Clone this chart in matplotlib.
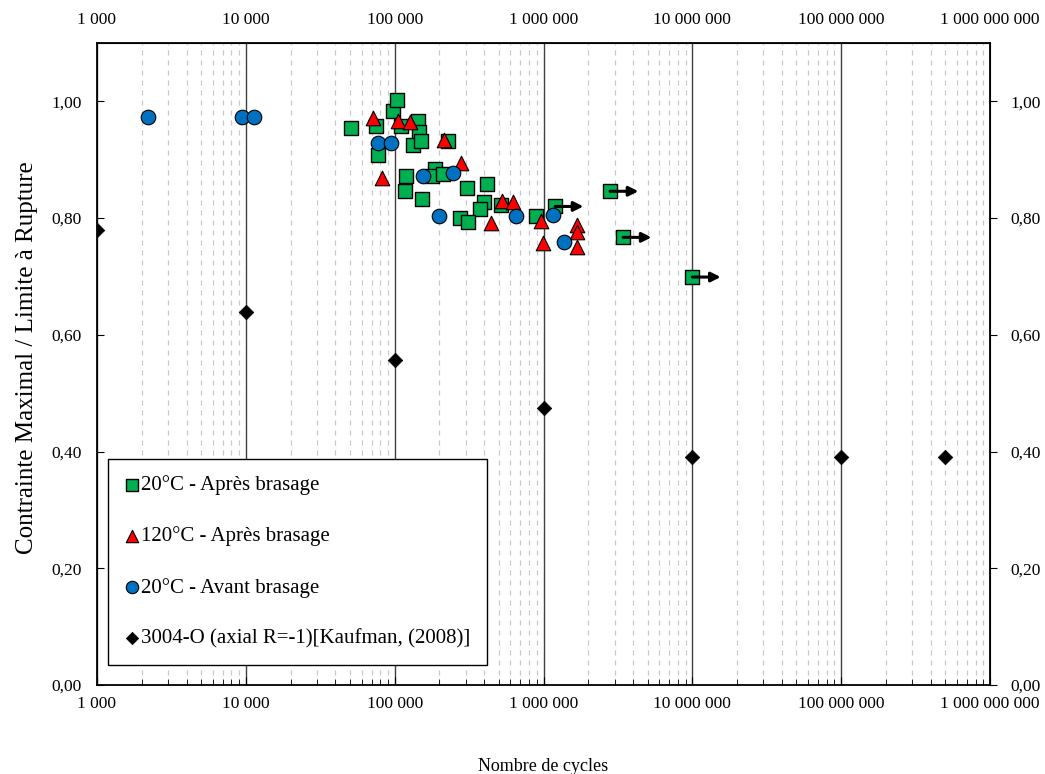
import matplotlib.pyplot as plt
from matplotlib.ticker import LogLocator, FuncFormatter, NullFormatter

plt.rcParams['font.family'] = ['Liberation Serif', 'DejaVu Serif']

# 20°C - Après brasage (green squares)
sq_n = [50900, 75000, 77300, 97500, 104000, 110000, 143500, 146000, 133000, 150000,
        229000, 119000, 117000, 153000, 187000, 178000, 211000, 307000, 418000, 399000,
        375000, 519000, 275000, 311000, 891000]
sq_s = [0.955, 0.957, 0.908, 0.983, 1.003, 0.958, 0.966, 0.947, 0.926, 0.932,
        0.932, 0.872, 0.846, 0.832, 0.885, 0.873, 0.875, 0.851, 0.858, 0.827,
        0.815, 0.822, 0.801, 0.793, 0.803]
# run-outs (no failure) -> arrows
ro_n = [1196000, 2800000, 3430000, 10000000]
ro_s = [0.820, 0.846, 0.767, 0.699]

# 120°C - Après brasage (red triangles)
tri_n = [71600, 105000, 127000, 215000, 279000, 82200, 527000, 625000, 445000,
         964000, 994000, 1682000, 1682000, 1682000]
tri_s = [0.971, 0.966, 0.964, 0.933, 0.894, 0.868, 0.830, 0.827, 0.791,
         0.795, 0.757, 0.788, 0.776, 0.750]

# 20°C - Avant brasage (blue circles)
circ_n = [2200, 9400, 11300, 77300, 94500, 155000, 247000, 199000, 655000, 1160000, 1375000]
circ_s = [0.973, 0.973, 0.973, 0.928, 0.928, 0.872, 0.877, 0.803, 0.803, 0.805, 0.759]

# 3004-O Kaufman
kf_n = [1000, 10000, 100000, 1000000, 10000000, 100000000, 500000000]
kf_s = [0.779, 0.639, 0.557, 0.474, 0.390, 0.390, 0.390]

x_ticks = [1e3, 1e4, 1e5, 1e6, 1e7, 1e8, 1e9]
y_ticks = [0.0, 0.2, 0.4, 0.6, 0.8, 1.0]

fig, ax = plt.subplots(figsize=(10.45, 7.74), dpi=100)
fig.subplots_adjust(left=0.0928, right=0.9474, top=0.9444, bottom=0.115)

ax.set_xscale('log')
ax.set_xlim(1e3, 1e9)
ax.set_ylim(0, 1.1)

ax.grid(True, which='major', axis='x', color='#404040', lw=1.0, ls='-')
ax.grid(True, which='minor', axis='x', color='#c8c8c8', lw=0.9, ls=(0, (4, 4)))
ax.set_axisbelow(True)

ax.scatter(sq_n + ro_n, sq_s + ro_s, marker='s', s=100, c='#00B050', edgecolors='black',
           linewidths=1, zorder=3, label='20°C - Après brasage')
ax.scatter(tri_n, tri_s, marker='^', s=110, c='#FF0000', edgecolors='black',
           linewidths=0.8, zorder=3, label='120°C - Après brasage')
ax.scatter(circ_n, circ_s, marker='o', s=110, c='#0070C0', edgecolors='black',
           linewidths=0.8, zorder=3, label='20°C - Avant brasage')
ax.scatter(kf_n, kf_s, marker='D', s=55, c='black', edgecolors='black',
           linewidths=0.5, zorder=3, label='3004-O (axial R=-1)[Kaufman, (2008)]')

for n, s in zip(ro_n, ro_s):
    ax.annotate('', xy=(n * 1.55, s), xytext=(n, s),
                arrowprops=dict(arrowstyle='-|>', color='black', lw=2.2,
                                mutation_scale=14, shrinkA=0, shrinkB=0), zorder=4)

xfmt = FuncFormatter(lambda v, p: f"{int(round(v)):,}".replace(',', ' '))
yfmt = FuncFormatter(lambda v, p: f"{v:.2f}".replace('.', ','))
minor = LogLocator(base=10, subs=range(2, 10), numticks=100)

ax.set_xticks(x_ticks)
ax.xaxis.set_minor_locator(minor)
ax.xaxis.set_major_formatter(xfmt)
ax.xaxis.set_minor_formatter(NullFormatter())
ax.set_yticks(y_ticks)
ax.yaxis.set_major_formatter(yfmt)

ax.tick_params(axis='x', which='major', direction='in', length=6, labelsize=12.5, pad=8, top=False)
ax.tick_params(axis='x', which='minor', direction='in', length=4, top=False)
ax.tick_params(axis='y', which='major', direction='in', length=5, labelsize=12.5, pad=11, right=False)

for sp in ax.spines.values():
    sp.set_linewidth(1.3)

top = ax.secondary_xaxis('top')
top.set_xscale('log')
top.set_xticks(x_ticks)
top.xaxis.set_minor_locator(LogLocator(base=10, subs=range(2, 10), numticks=100))
top.xaxis.set_major_formatter(xfmt)
top.xaxis.set_minor_formatter(NullFormatter())
top.tick_params(axis='x', which='both', length=0, labelsize=12.5, pad=11)

right = ax.secondary_yaxis('right')
right.set_yticks(y_ticks)
right.yaxis.set_major_formatter(yfmt)
right.tick_params(axis='y', direction='out', length=5, labelsize=12.5, pad=10)

ax.set_xlabel('Nombre de cycles', fontsize=13, labelpad=33)
ax.set_ylabel('Contrainte Maximal / Limite à Rupture', fontsize=18)
ax.yaxis.set_label_coords(-0.066, 0.51)

leg = ax.legend(loc='lower left', bbox_to_anchor=(0.012, 0.031), borderaxespad=0,
                fontsize=15, labelspacing=1.5, handlelength=0.7, handletextpad=0.1,
                fancybox=False, edgecolor='black', framealpha=1, borderpad=0.8,
                markerscale=0.85)
leg.get_frame().set_linewidth(1.0)

plt.savefig('out.png')
